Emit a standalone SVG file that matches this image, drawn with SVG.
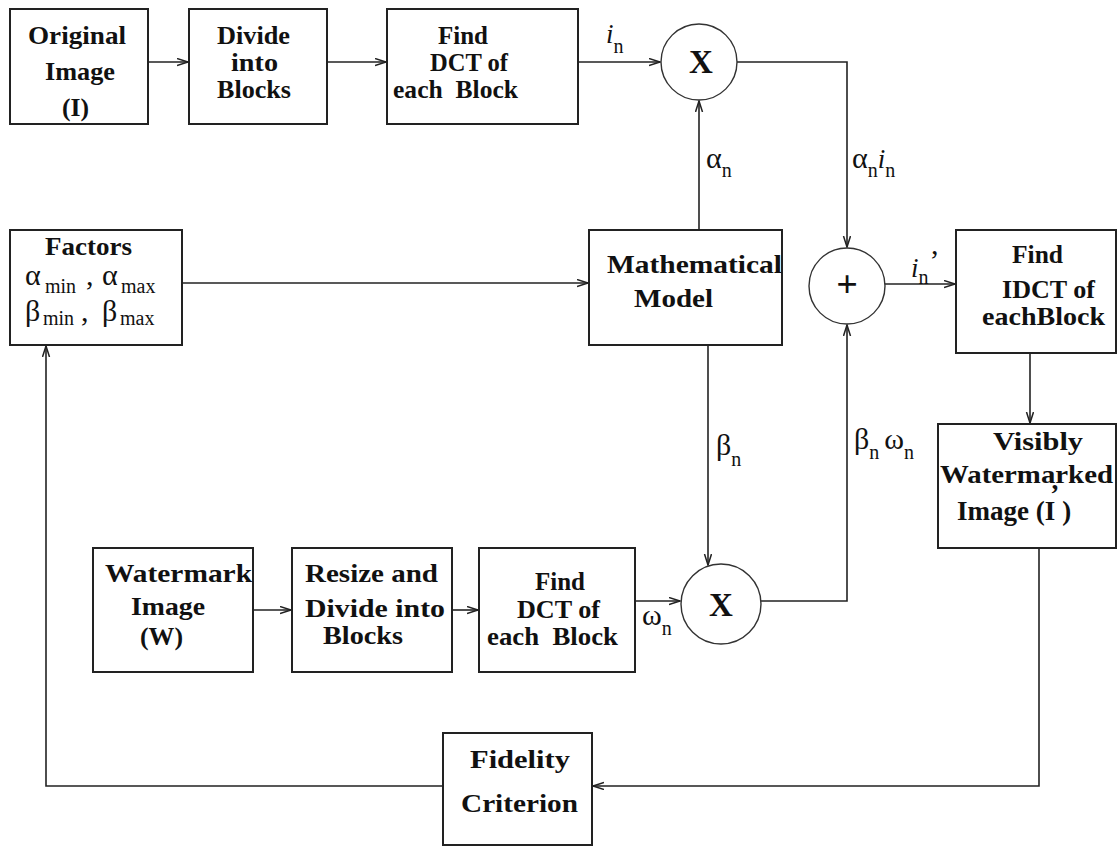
<svg xmlns="http://www.w3.org/2000/svg" width="1117" height="847" viewBox="0 0 1117 847">
<style>
.box{fill:#fff;stroke:#222;stroke-width:2}
.circ{fill:#fff;stroke:#333;stroke-width:1.4}
.t{font-family:"Liberation Serif","Times New Roman",serif;font-weight:bold;font-size:26px;fill:#111}
.g{font-family:"Liberation Serif","Times New Roman",serif;font-size:30px;fill:#111}
.sb{font-size:20px}
.it{font-style:italic;font-size:27px}
.op{font-family:"Liberation Serif","Times New Roman",serif;font-weight:bold;font-size:33px;fill:#111;text-anchor:middle}
.c{fill:none;stroke:#222;stroke-width:1.6;marker-end:url(#ah)}
</style>
<defs>
<marker id="ah" markerUnits="userSpaceOnUse" markerWidth="14" markerHeight="10" refX="11" refY="4" orient="auto">
<path d="M0,0.5 L11,4 L0,7.5" fill="none" stroke="#222" stroke-width="1.5"/>
</marker>
</defs>
<rect width="1117" height="847" fill="#fff"/>

<g id="connectors">
<path class="c" d="M148,62 H188"/>
<path class="c" d="M327,62 H386"/>
<path class="c" d="M578,62 H660"/>
<path class="c" d="M699,230 V101"/>
<path class="c" d="M737,62 H847 V247"/>
<path class="c" d="M182,283 H588"/>
<path class="c" d="M885,284 H955"/>
<path class="c" d="M1030,353 V423"/>
<path class="c" d="M708,345 V565"/>
<path class="c" d="M253,610 H291"/>
<path class="c" d="M452,610 H478"/>
<path class="c" d="M635,601 H680"/>
<path class="c" d="M761,601 H847 V325"/>
<path class="c" d="M1039,548 V786 H593"/>
<path class="c" d="M443,786 H46 V346"/>
</g>

<g id="labels">
<text class="g" x="606" y="43"><tspan class="it">i</tspan><tspan class="sb" dy="10">n</tspan></text>
<text class="g" x="706" y="168">α<tspan class="sb" dy="9">n</tspan></text>
<text class="g" x="852" y="168">α<tspan class="sb" dy="9">n</tspan><tspan class="it" dy="-9">i</tspan><tspan class="sb" dy="9">n</tspan></text>
<text class="g" x="911" y="277"><tspan class="it">i</tspan><tspan class="sb" dy="7">n</tspan><tspan dx="1" dy="-14">’</tspan></text>
<text class="g" x="716" y="455">β<tspan class="sb" dy="11">n</tspan></text>
<text class="g" x="854" y="449">β<tspan class="sb" dy="10">n</tspan><tspan dx="5" dy="-10">ω</tspan><tspan class="sb" dy="10">n</tspan></text>
<text class="g" x="642" y="625">ω<tspan class="sb" dy="10">n</tspan></text>
</g>

<g id="original">
<rect class="box" x="10" y="9" width="138" height="115"/>
<text class="t" x="28" y="44" textLength="98" lengthAdjust="spacingAndGlyphs">Original</text>
<text class="t" x="45" y="80" textLength="70" lengthAdjust="spacingAndGlyphs">Image</text>
<text class="t" x="62" y="116" textLength="27" lengthAdjust="spacingAndGlyphs">(I)</text>
</g>
<g id="divide">
<rect class="box" x="189" y="9" width="138" height="115"/>
<text class="t" x="217" y="44" textLength="73" lengthAdjust="spacingAndGlyphs">Divide</text>
<text class="t" x="231" y="71" textLength="47" lengthAdjust="spacingAndGlyphs">into</text>
<text class="t" x="217" y="98" textLength="74" lengthAdjust="spacingAndGlyphs">Blocks</text>
</g>
<g id="dct1">
<rect class="box" x="387" y="9" width="191" height="115"/>
<text class="t" x="438" y="44" textLength="50" lengthAdjust="spacingAndGlyphs">Find</text>
<text class="t" x="430" y="71" textLength="78" lengthAdjust="spacingAndGlyphs">DCT of</text>
<text class="t" x="393" y="98" textLength="125" lengthAdjust="spacingAndGlyphs" xml:space="preserve">each  Block</text>
</g>
<g id="mult1">
<circle class="circ" cx="699" cy="62" r="38"/>
<text class="op" x="701" y="73">X</text>
</g>
<g id="factors">
<rect class="box" x="10" y="230" width="172" height="115"/>
<text class="t" x="45" y="255" textLength="87" lengthAdjust="spacingAndGlyphs">Factors</text>
<text class="g" y="285"><tspan x="25">α</tspan><tspan class="sb" x="45" dy="8">min</tspan><tspan x="86" dy="-8">,</tspan><tspan x="102">α</tspan><tspan class="sb" x="121" dy="8">max</tspan></text>
<text class="g" y="321"><tspan x="25">β</tspan><tspan class="sb" x="43" dy="4">min</tspan><tspan x="81" dy="-4">,</tspan><tspan x="102">β</tspan><tspan class="sb" x="120" dy="4">max</tspan></text>
</g>
<g id="model">
<rect class="box" x="589" y="230" width="193" height="115"/>
<text class="t" x="607" y="273" textLength="175" lengthAdjust="spacingAndGlyphs">Mathematical</text>
<text class="t" x="634" y="307" textLength="79" lengthAdjust="spacingAndGlyphs">Model</text>
</g>
<g id="plus">
<circle class="circ" cx="847" cy="286" r="38"/>
<text class="op" x="847" y="297" style="font-size:38px">+</text>
</g>
<g id="idct">
<rect class="box" x="956" y="230" width="160" height="123"/>
<text class="t" x="1012" y="263" textLength="51" lengthAdjust="spacingAndGlyphs">Find</text>
<text class="t" x="1002" y="298" textLength="93" lengthAdjust="spacingAndGlyphs">IDCT of</text>
<text class="t" x="982" y="325" textLength="123" lengthAdjust="spacingAndGlyphs">eachBlock</text>
</g>
<g id="visibly">
<rect class="box" x="938" y="424" width="178" height="124"/>
<text class="t" x="993" y="450" textLength="90" lengthAdjust="spacingAndGlyphs">Visibly</text>
<text class="t" x="940" y="483" textLength="173" lengthAdjust="spacingAndGlyphs">Watermarked</text>
<text class="t" x="957" y="520" style="font-size:27px">Image (I<tspan dx="-5" dy="-17">’</tspan><tspan dx="3" dy="17">)</tspan></text>
</g>
<g id="watermark">
<rect class="box" x="93" y="548" width="160" height="124"/>
<text class="t" x="105" y="582" textLength="147" lengthAdjust="spacingAndGlyphs">Watermark</text>
<text class="t" x="131" y="615" textLength="74" lengthAdjust="spacingAndGlyphs">Image</text>
<text class="t" x="140" y="645" textLength="43" lengthAdjust="spacingAndGlyphs">(W)</text>
</g>
<g id="resize">
<rect class="box" x="292" y="548" width="160" height="124"/>
<text class="t" x="305" y="582" textLength="133" lengthAdjust="spacingAndGlyphs">Resize and</text>
<text class="t" x="305" y="617" textLength="140" lengthAdjust="spacingAndGlyphs">Divide into</text>
<text class="t" x="323" y="644" textLength="80" lengthAdjust="spacingAndGlyphs">Blocks</text>
</g>
<g id="dct2">
<rect class="box" x="479" y="548" width="156" height="124"/>
<text class="t" x="535" y="590" textLength="50" lengthAdjust="spacingAndGlyphs">Find</text>
<text class="t" x="517" y="618" textLength="83" lengthAdjust="spacingAndGlyphs">DCT of</text>
<text class="t" x="487" y="645" textLength="131" lengthAdjust="spacingAndGlyphs" xml:space="preserve">each  Block</text>
</g>
<g id="mult2">
<circle class="circ" cx="721" cy="604" r="40"/>
<text class="op" x="721" y="616">X</text>
</g>
<g id="fidelity">
<rect class="box" x="443" y="733" width="149" height="112"/>
<text class="t" x="470" y="768" textLength="100" lengthAdjust="spacingAndGlyphs">Fidelity</text>
<text class="t" x="461" y="812" textLength="117" lengthAdjust="spacingAndGlyphs">Criterion</text>
</g>
</svg>
